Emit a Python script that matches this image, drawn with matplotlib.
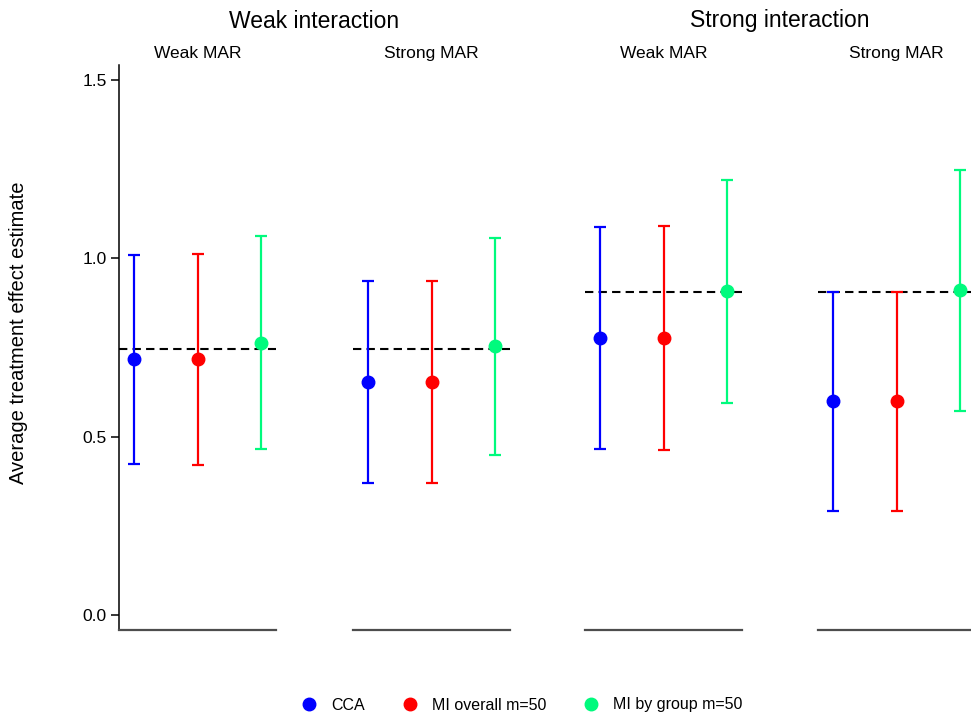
import numpy as np
import matplotlib.pyplot as plt

plt.rcParams['font.family'] = ['Liberation Sans', 'DejaVu Sans']

methods = ['CCA', 'MI overall m=50', 'MI by group m=50']
colors = ['#0000FF', '#FF0000', '#00FA7D']

interactions = ['Weak interaction', 'Strong interaction']
mar_levels = ['Weak MAR', 'Strong MAR']

# one row per panel (weak/weak, weak/strong, strong/weak, strong/strong), one column per method
estimate = np.array([[0.717, 0.719, 0.763],
                     [0.654, 0.654, 0.755],
                     [0.778, 0.778, 0.909],
                     [0.601, 0.601, 0.911]])
lower = np.array([[0.424, 0.422, 0.465],
                  [0.372, 0.371, 0.449],
                  [0.466, 0.464, 0.594],
                  [0.293, 0.293, 0.572]])
upper = np.array([[1.011, 1.013, 1.062],
                  [0.937, 0.936, 1.058],
                  [1.087, 1.091, 1.220],
                  [0.905, 0.905, 1.249]])
true_ate = [0.746, 0.746, 0.906, 0.906]

W, H = 971, 715
fig = plt.figure(figsize=(W / 100, H / 100), dpi=100)

left_px = [119, 353, 585, 818]
panel_w = 157
top_px, bot_px = 65, 630

axes = []
for i in range(4):
    ax = fig.add_axes([left_px[i] / W, 1 - bot_px / H, panel_w / W, (bot_px - top_px) / H])
    axes.append(ax)
    x = np.arange(1, 4)
    for j in range(3):
        ax.errorbar(x[j], estimate[i, j],
                    yerr=[[estimate[i, j] - lower[i, j]], [upper[i, j] - estimate[i, j]]],
                    fmt='o', color=colors[j], ms=9, elinewidth=1.6, capsize=4.5,
                    capthick=1.6, label=methods[j], clip_on=False)
    ax.axhline(true_ate[i], color='black', ls=(0, (4, 2.5)), lw=1.5, zorder=1)
    ax.set_xlim(0.76, 3.24)
    ax.set_ylim(-0.041, 1.542)
    for s in ['top', 'right']:
        ax.spines[s].set_visible(False)
    ax.spines['bottom'].set_color('#4d4d4d')
    ax.spines['bottom'].set_linewidth(1.6)
    ax.set_xticks([])
    if i == 0:
        ax.spines['left'].set_linewidth(1.1)
        ax.set_yticks([0.0, 0.5, 1.0, 1.5])
        ax.set_yticklabels(['0.0', '0.5', '1.0', '1.5'])
        ax.tick_params(axis='y', length=6, width=1.1, labelsize=12.5, pad=3)
    else:
        ax.spines['left'].set_visible(False)
        ax.set_yticks([])
    ax.set_title(mar_levels[i % 2], fontsize=12.5, pad=5)

# column group headings
for k, name in enumerate(interactions):
    xc = (left_px[2 * k] + left_px[2 * k + 1] + panel_w) / 2 / W
    fig.text(xc, 1 - 21 / H, name, ha='center', va='center', fontsize=16.5)

fig.text(19 / W, 1 - 333 / H, 'Average treatment effect estimate',
         rotation=90, ha='center', va='center', fontsize=14.5)

handles = [plt.Line2D([], [], ls='none', marker='o', ms=9, color=c) for c in colors]
fig.legend(handles, methods, loc='center', bbox_to_anchor=(521 / W, 1 - 705 / H),
           ncol=3, frameon=False, fontsize=11.5, handletextpad=0.8, columnspacing=2.2,
           handlelength=1.2)

fig.savefig('out.png', dpi=100)
